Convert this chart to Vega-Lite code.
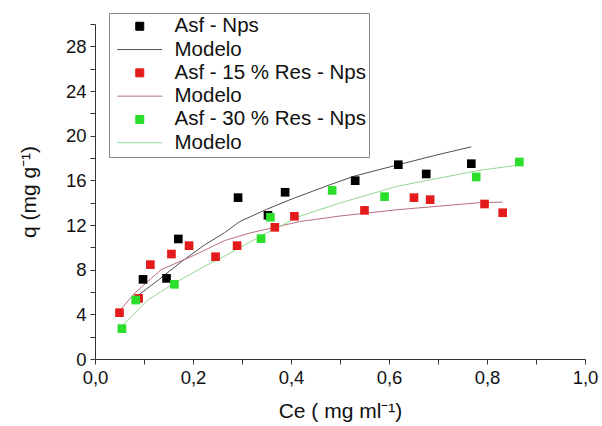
{
  "$schema": "https://vega.github.io/schema/vega-lite/v6.json",
  "width": 490,
  "height": 335,
  "autosize": {"type": "none"},
  "padding": {"left": 95, "top": 24, "right": 17, "bottom": 67},
  "background": "white",
  "config": {"view": {"stroke": null}, "font": "Liberation Sans"},
  "datasets": {
    "pts": [
      {"s": "Asf - Nps", "ce": 0.098, "q": 7.13},
      {"s": "Asf - Nps", "ce": 0.146, "q": 7.22},
      {"s": "Asf - Nps", "ce": 0.170, "q": 10.75},
      {"s": "Asf - Nps", "ce": 0.292, "q": 14.45},
      {"s": "Asf - Nps", "ce": 0.353, "q": 12.87},
      {"s": "Asf - Nps", "ce": 0.388, "q": 14.93},
      {"s": "Asf - Nps", "ce": 0.531, "q": 15.97},
      {"s": "Asf - Nps", "ce": 0.619, "q": 17.40},
      {"s": "Asf - Nps", "ce": 0.676, "q": 16.57},
      {"s": "Asf - Nps", "ce": 0.768, "q": 17.49},
      {"s": "Asf - 15 % Res - Nps", "ce": 0.050, "q": 4.15},
      {"s": "Asf - 15 % Res - Nps", "ce": 0.089, "q": 5.43},
      {"s": "Asf - 15 % Res - Nps", "ce": 0.113, "q": 8.45},
      {"s": "Asf - 15 % Res - Nps", "ce": 0.156, "q": 9.40},
      {"s": "Asf - 15 % Res - Nps", "ce": 0.192, "q": 10.15},
      {"s": "Asf - 15 % Res - Nps", "ce": 0.246, "q": 9.16},
      {"s": "Asf - 15 % Res - Nps", "ce": 0.290, "q": 10.15},
      {"s": "Asf - 15 % Res - Nps", "ce": 0.367, "q": 11.79},
      {"s": "Asf - 15 % Res - Nps", "ce": 0.407, "q": 12.78},
      {"s": "Asf - 15 % Res - Nps", "ce": 0.550, "q": 13.31},
      {"s": "Asf - 15 % Res - Nps", "ce": 0.651, "q": 14.45},
      {"s": "Asf - 15 % Res - Nps", "ce": 0.684, "q": 14.27},
      {"s": "Asf - 15 % Res - Nps", "ce": 0.795, "q": 13.88},
      {"s": "Asf - 15 % Res - Nps", "ce": 0.832, "q": 13.10},
      {"s": "Asf - 30 % Res - Nps", "ce": 0.055, "q": 2.72},
      {"s": "Asf - 30 % Res - Nps", "ce": 0.083, "q": 5.28},
      {"s": "Asf - 30 % Res - Nps", "ce": 0.162, "q": 6.69},
      {"s": "Asf - 30 % Res - Nps", "ce": 0.339, "q": 10.78},
      {"s": "Asf - 30 % Res - Nps", "ce": 0.358, "q": 12.69},
      {"s": "Asf - 30 % Res - Nps", "ce": 0.484, "q": 15.10},
      {"s": "Asf - 30 % Res - Nps", "ce": 0.591, "q": 14.54},
      {"s": "Asf - 30 % Res - Nps", "ce": 0.778, "q": 16.30},
      {"s": "Asf - 30 % Res - Nps", "ce": 0.866, "q": 17.64}
    ],
    "lines": [
      {"s": "Modelo A", "ce": 0.085, "q": 5.6},
      {"s": "Modelo A", "ce": 0.130, "q": 7.1},
      {"s": "Modelo A", "ce": 0.176, "q": 8.7},
      {"s": "Modelo A", "ce": 0.223, "q": 10.2},
      {"s": "Modelo A", "ce": 0.264, "q": 11.3},
      {"s": "Modelo A", "ce": 0.295, "q": 12.3},
      {"s": "Modelo A", "ce": 0.350, "q": 13.4},
      {"s": "Modelo A", "ce": 0.400, "q": 14.3},
      {"s": "Modelo A", "ce": 0.479, "q": 15.6},
      {"s": "Modelo A", "ce": 0.531, "q": 16.4},
      {"s": "Modelo A", "ce": 0.619, "q": 17.4},
      {"s": "Modelo A", "ce": 0.700, "q": 18.3},
      {"s": "Modelo A", "ce": 0.768, "q": 19.0},
      {"s": "Modelo B", "ce": 0.048, "q": 4.2},
      {"s": "Modelo B", "ce": 0.081, "q": 5.9},
      {"s": "Modelo B", "ce": 0.135, "q": 8.0},
      {"s": "Modelo B", "ce": 0.203, "q": 9.3},
      {"s": "Modelo B", "ce": 0.264, "q": 10.6},
      {"s": "Modelo B", "ce": 0.315, "q": 11.27},
      {"s": "Modelo B", "ce": 0.417, "q": 12.3},
      {"s": "Modelo B", "ce": 0.499, "q": 12.8},
      {"s": "Modelo B", "ce": 0.615, "q": 13.36},
      {"s": "Modelo B", "ce": 0.785, "q": 14.0},
      {"s": "Modelo B", "ce": 0.832, "q": 14.05},
      {"s": "Modelo C", "ce": 0.057, "q": 3.05},
      {"s": "Modelo C", "ce": 0.108, "q": 5.29},
      {"s": "Modelo C", "ce": 0.162, "q": 6.79},
      {"s": "Modelo C", "ce": 0.223, "q": 8.28},
      {"s": "Modelo C", "ce": 0.264, "q": 9.2},
      {"s": "Modelo C", "ce": 0.336, "q": 10.97},
      {"s": "Modelo C", "ce": 0.417, "q": 12.77},
      {"s": "Modelo C", "ce": 0.499, "q": 13.96},
      {"s": "Modelo C", "ce": 0.615, "q": 15.45},
      {"s": "Modelo C", "ce": 0.785, "q": 16.9},
      {"s": "Modelo C", "ce": 0.870, "q": 17.4}
    ]
  },
  "encoding": {
    "x": {
      "field": "ce", "type": "quantitative",
      "scale": {"domain": [0, 1], "nice": false},
      "axis": {
        "values": [0, 0.1, 0.2, 0.3, 0.4, 0.5, 0.6, 0.7, 0.8, 0.9, 1.0],
        "labelExpr": "round(datum.value*10)%2==0 ? replace(format(datum.value,'.1f'),'.',',') : ''",
        "grid": false, "tickSize": 5, "domainColor": "#333", "tickColor": "#333",
        "labelFontSize": 18.5, "labelColor": "#111", "labelPadding": 4,
        "labelFlush": false, "labelOverlap": false,
        "title": "Ce ( mg ml⁻¹)", "titleFontSize": 21, "titleFontWeight": "normal",
        "titleColor": "#111", "titlePadding": 14
      }
    },
    "y": {
      "field": "q", "type": "quantitative",
      "scale": {"domain": [0, 30], "nice": false},
      "axis": {
        "values": [0, 2, 4, 6, 8, 10, 12, 14, 16, 18, 20, 22, 24, 26, 28, 30],
        "labelExpr": "datum.value%4==0 && datum.value<30 ? datum.label : ''",
        "grid": false, "tickSize": 5, "domainColor": "#333", "tickColor": "#333",
        "labelFontSize": 18.5, "labelColor": "#111", "labelPadding": 4,
        "labelFlush": false, "labelOverlap": false,
        "title": "q (mg g⁻¹)", "titleFontSize": 21, "titleFontWeight": "normal",
        "titleColor": "#111", "titlePadding": 26
      }
    },
    "color": {
      "field": "s", "type": "nominal",
      "scale": {
        "domain": ["Asf - Nps", "Modelo A", "Asf - 15 % Res - Nps", "Modelo B", "Asf - 30 % Res - Nps", "Modelo C"],
        "range": ["#000000", "#505050", "#e31b1b", "#b8707e", "#2ade2a", "#92d892"]
      },
      "legend": {
        "title": null, "orient": "none", "legendX": 14, "legendY": -11,
        "padding": 3, "strokeColor": "#888", "fillColor": "white",
        "labelFontSize": 20.5, "labelColor": "#111", "labelOffset": 42, "labelLimit": 400,
        "symbolSize": 100, "rowPadding": 2.3,
        "labelExpr": "indexof(datum.label,'Modelo')==0 ? 'Modelo' : datum.label",
        "encode": {
          "symbols": {
            "update": {
              "shape": {"signal": "indexof(datum.value,'Modelo')==0 ? 'M-1,0H8' : 'M2.7,-0.8H4.3V0.8H2.7Z'"},
              "fill": {"scale": "color", "field": "value"},
              "stroke": {"scale": "color", "field": "value"},
              "strokeWidth": {"value": 1},
              "size": {"value": 100},
              "opacity": {"value": 1}
            }
          }
        }
      }
    }
  },
  "layer": [
    {"data": {"name": "lines"}, "mark": {"type": "line", "strokeWidth": 1}},
    {"data": {"name": "pts"}, "mark": {"type": "point", "shape": "square", "filled": true, "size": 75, "opacity": 1}}
  ]
}
